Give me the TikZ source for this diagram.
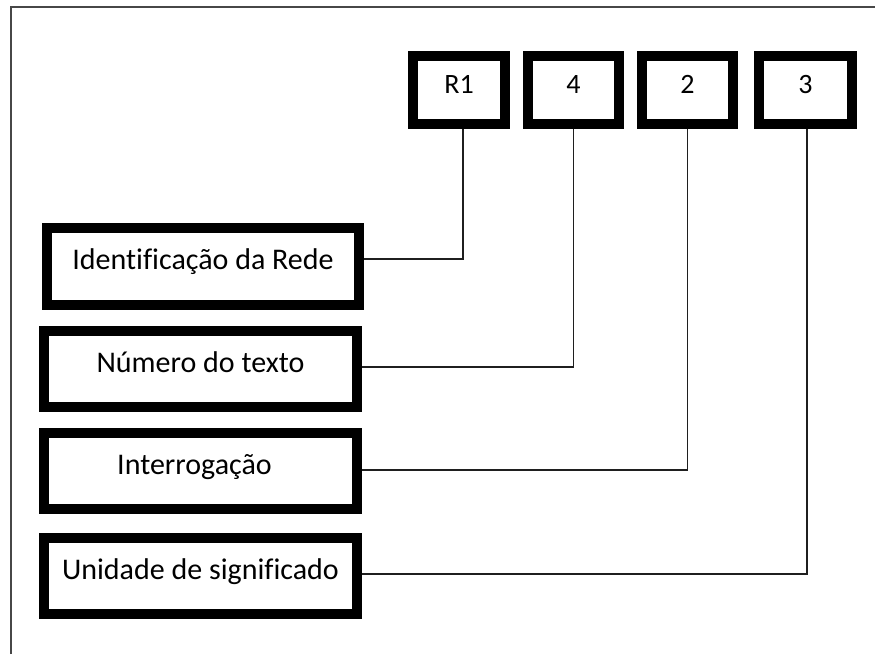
\documentclass[tikz,border=0pt]{standalone}
\usepackage{fontspec}
\setmainfont{Carlito}[Ligatures=NoCommon]
\begin{document}
\begin{tikzpicture}[x=1pt,y=-1pt,
  topbox/.style={draw=black,line width=10pt,minimum height=68pt,inner sep=0pt,
    font=\fontsize{28}{30}\selectfont,text height=0.64em,text depth=0pt},
  leftbox/.style={draw=black,line width=10.5pt,minimum width=313pt,minimum height=76pt,inner sep=0pt,
    font=\fontsize{30}{34}\selectfont,text height=0.64em,text depth=0pt},
  conn/.style={draw=black!88,line width=1.7pt},
  frame/.style={draw=black!72,line width=2.2pt}]
\useasboundingbox (0,0) rectangle (875,654);
\coordinate (fa) at (11,654);
\coordinate (fb) at (11,7);
\coordinate (fc) at (875,7);
\draw[frame] (fa) -- (fb) -- (fc);
% top boxes
\node[topbox,minimum width=92pt] (t1) at (459,90) {R1};
\node[topbox,minimum width=91pt] (t2) at (573.5,90) {4};
\node[topbox,minimum width=91pt] (t3) at (687.5,90) {2};
\node[topbox,minimum width=93pt] (t4) at (805.5,90) {3};
% left boxes
\node[leftbox,minimum width=312pt,minimum height=77pt] (b1) at (203,266.5) {Identificação da Rede};
\node[leftbox] (b2) at (200.5,369) {Número do texto};
\node[leftbox] (b3) at (200.5,471) {Interrogação\hspace*{12pt}};
\node[leftbox] (b4) at (200.5,576) {Unidade de significado};
% connectors
\draw[conn] ([yshift=7.5pt]b1.east) -| ([xshift=4pt]t1.south);
\draw[conn] ([yshift=2pt]b2.east) -| (t2.south);
\draw[conn] ([yshift=1pt]b3.east) -| (t3.south);
\draw[conn] ([yshift=2pt]b4.east) -| ([xshift=1.5pt]t4.south);
\end{tikzpicture}
\end{document}
